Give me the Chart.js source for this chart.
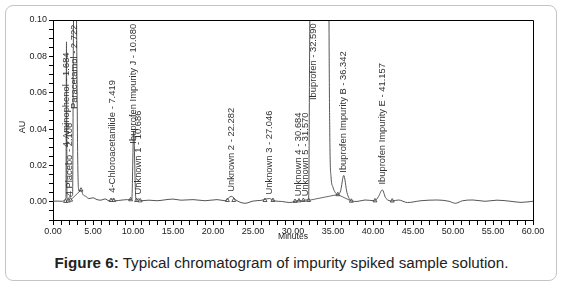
<!DOCTYPE html>
<html>
<head>
<meta charset="utf-8">
<script src="https://cdn.jsdelivr.net/npm/chart.js@4.4.0/dist/chart.umd.min.js"></script>
<style>
  body { margin: 0; background: #fff; font-family: "Liberation Sans", Arial, sans-serif; }
  #wrap { position: relative; width: 563px; height: 286px; overflow: hidden; }
  #box { position: absolute; left: 5px; top: 5px; width: 550px; height: 274px;
         border: 1px solid #c4c4c4; border-radius: 8px; }
  #chart { position: absolute; left: 0; top: 0; }
  #caption { position: absolute; left: 0; width: 563px; top: 254px; text-align: center;
             font-size: 15.2px; line-height: 18px; color: #222; }
</style>
</head>
<body>
<div id="wrap">
  <div id="box"></div>
  <canvas id="chart" width="563" height="245"></canvas>
  <div id="caption"><b>Figure 6:</b> Typical chromatogram of impurity spiked sample solution.</div>
</div>
<script>
// chromatogram trace, minutes / AU
const traceTime = [0, 0.5, 1.0, 1.4, 1.55, 1.62, 1.684, 1.75, 1.9, 2.1, 2.3, 2.45, 2.55, 2.72, 2.92, 3.1, 3.25, 3.5, 3.75, 4.1,
  4.5, 5.0, 5.5, 6.0, 6.5, 7.0, 7.419, 7.8, 8.5, 9.3, 9.85, 10.08, 10.35, 10.5, 10.686, 11.0, 12.0, 13.0, 14.0, 15.0,
  16.0, 17.5, 19.0, 20.5, 21.5, 22.282, 23.0, 24.0, 25.0, 26.0, 27.046, 27.7, 28.6, 29.6, 30.3, 30.684, 31.1, 31.57, 31.95, 32.1,
  32.59, 34.3, 34.5, 34.62, 34.75, 35.0, 35.3, 35.6, 35.95, 36.342, 36.75, 37.3, 38.0, 39.0, 40.2, 40.7, 41.157, 41.6, 42.4, 43.2,
  44.3, 46.0, 48.0, 49.5, 50.3, 51.2, 52.5, 54.0, 55.5, 57.0, 58.5, 60.0];
const traceAU = [0.0003, 0.0004, 0.0003, 0.0006, 0.0015, 0.002, 0.088, 0.002, 0.0015, 0.003, 0.003, 0.004, 0.09, 0.16, 0.11, 0.02, 0.006, 0.0065, 0.004, 0.003,
  0.0018, 0.0022, 0.0012, 0.0009, 0.0016, 0.0006, 0.0015, 0.0006, 0.0009, 0.0012, 0.0012, 0.039, 0.002, 0.0008, 0.0016, 0.0006, 0.0009, 0.0006, 0.0011, 0.0015,
  0.0009, 0.0012, 0.0006, 0.0012, 0.0006, 0.003, 0.0006, -0.0008, 0.0004, 0.0008, 0.0018, 0.0005, 0.0002, -0.0004, 0.0003, 0.0008, 0.0004, 0.001, 0.001, 0.1,
  0.4, 0.4, 0.1, 0.03, 0.014, 0.008, 0.005, 0.004, 0.006, 0.0145, 0.005, 0.0005, 0.0002, 0.001, 0.0006, 0.003, 0.0066, 0.002, 0.0005, 0.001,
  -0.0004, 0.0006, 0.001, 0.0003, -0.0008, 0.0006, 0.001, 0.0003, 0.0009, 0.0004, -0.0003, 0.0003];

// integration baselines (null breaks the line)
const baseTime = [2.2, 3.5, null, 31.95, 35.6, 37.3];
const baseAU = [0.001, 0.0065, null, 0.0008, 0.004, 0.0004];

// integration marks
const markTime = [1.58, 1.9, 2.2, 3.5, 7.25, 7.6, 9.7, 10.45, 10.9, 21.8, 22.6, 26.5, 27.5, 30.25, 30.75, 31.3, 31.95, 35.6, 37.3, 40.25, 42.4];
const markAU = [0.0003, 0.0005, 0.001, 0.0065, 0.0008, 0.0008, 0.0012, 0.0008, 0.0006, 0.0008, 0.0008, 0.0008, 0.0008, 0.0003, 0.0006, 0.0008, 0.0008, 0.004, 0.0004, 0.0006, 0.0005];

// peak labels
const peakNames = ['4 Placebo - 2.106', '4-Aminophenol - 1.684', 'Paracetamol - 2.722', '4-Chloroacetanilide - 7.419',
  'Ibuprofen Impurity J - 10.080', 'Unknown 1 - 10.686', 'Unknown 2 - 22.282', 'Unknown 3 - 27.046',
  'Unknown 4 - 30.684', 'Unknown 5 - 31.570', 'Ibuprofen - 32.590', 'Ibuprofen Impurity B - 36.342', 'Ibuprofen Impurity E - 41.157'];
const peakTimes = [2.0, 1.684, 2.722, 7.419, 10.08, 10.686, 22.282, 27.046, 30.684, 31.57, 32.59, 36.342, 41.157];
const labelBaseAU = [0.003, 0.030, 0.051, 0.005, 0.032, 0.004, 0.0055, 0.004, 0.003, 0.003, 0.056, 0.016, 0.0095];

const yMajor = [0, 0.02, 0.04, 0.06, 0.08, 0.10];
const xMajor = [0, 5, 10, 15, 20, 25, 30, 35, 40, 45, 50, 55, 60];

const pts = (xs, ys) => xs.map((x, i) => ({ x: x, y: x === null ? null : ys[i] }));

const FONT = '"Liberation Sans", Arial, sans-serif';

const extras = {
  id: 'extras',
  afterDraw(chart) {
    const ctx = chart.ctx, a = chart.chartArea;
    const xs = chart.scales.x, ys = chart.scales.y;
    ctx.save();
    ctx.strokeStyle = '#000';
    ctx.lineWidth = 1;
    ctx.beginPath();
    ctx.moveTo(a.left, a.top + 0.5);
    ctx.lineTo(a.right + 0.5, a.top + 0.5);
    ctx.lineTo(a.right + 0.5, a.bottom);
    ctx.stroke();

    ctx.fillStyle = '#333';
    ctx.font = '9.4px ' + FONT;
    ctx.textAlign = 'left';
    ctx.textBaseline = 'middle';
    peakNames.forEach((name, i) => {
      ctx.save();
      ctx.translate(xs.getPixelForValue(peakTimes[i]), ys.getPixelForValue(labelBaseAU[i]));
      ctx.rotate(-Math.PI / 2);
      ctx.fillText(name, 0, 0);
      ctx.restore();
    });

    ctx.fillStyle = '#222';
    ctx.font = '9px ' + FONT;
    ctx.textAlign = 'center';
    ctx.save();
    ctx.translate(23, (a.top + a.bottom) / 2 + 7);
    ctx.rotate(-Math.PI / 2);
    ctx.fillText('AU', 0, 0);
    ctx.restore();
    ctx.font = '8.5px ' + FONT;
    ctx.fillText('Minutes', (a.left + a.right) / 2, 237);
    ctx.restore();
  }
};

new Chart(document.getElementById('chart'), {
  type: 'line',
  data: {
    datasets: [
      {
        data: pts(traceTime, traceAU),
        borderColor: '#555',
        borderWidth: 1,
        pointRadius: 0,
        cubicInterpolationMode: 'monotone'
      },
      {
        data: pts(baseTime, baseAU),
        borderColor: '#444',
        borderWidth: 0.8,
        pointRadius: 0,
        spanGaps: false
      },
      {
        data: pts(markTime, markAU),
        showLine: false,
        pointStyle: 'triangle',
        pointRadius: 2.3,
        pointBorderWidth: 0.8,
        pointBorderColor: '#333',
        pointBackgroundColor: '#fff'
      }
    ]
  },
  options: {
    responsive: false,
    animation: false,
    devicePixelRatio: 1,
    layout: { padding: { left: 0, top: 20, right: 30, bottom: 0 } },
    plugins: { legend: { display: false }, tooltip: { enabled: false } },
    scales: {
      x: {
        type: 'linear',
        min: 0,
        max: 60,
        afterFit: s => { s.height = 25; },
        afterBuildTicks: s => {
          const t = [];
          for (let m = 0; m <= 60; m++) t.push({ value: m });
          s.ticks = t;
        },
        ticks: {
          autoSkip: false,
          maxRotation: 0,
          padding: 1,
          color: '#222',
          font: { family: FONT, size: 9 },
          callback: v => xMajor.includes(v) ? v.toFixed(2) : ''
        },
        grid: { drawOnChartArea: false, tickLength: 5, color: '#000' },
        border: { color: '#000' }
      },
      y: {
        min: -0.01,
        max: 0.10,
        afterFit: s => { s.width = 53; },
        afterBuildTicks: s => {
          const t = [];
          for (let k = -2; k <= 20; k++) t.push({ value: Math.round(k * 5) / 1000 });
          s.ticks = t;
        },
        ticks: {
          autoSkip: false,
          padding: 2,
          color: '#222',
          font: { family: FONT, size: 9 },
          callback: v => yMajor.some(m => Math.abs(m - v) < 1e-9) ? v.toFixed(2) : ''
        },
        grid: { drawOnChartArea: false, tickLength: 4, color: '#000' },
        border: { color: '#000' }
      }
    }
  },
  plugins: [extras]
});
</script>
</body>
</html>
